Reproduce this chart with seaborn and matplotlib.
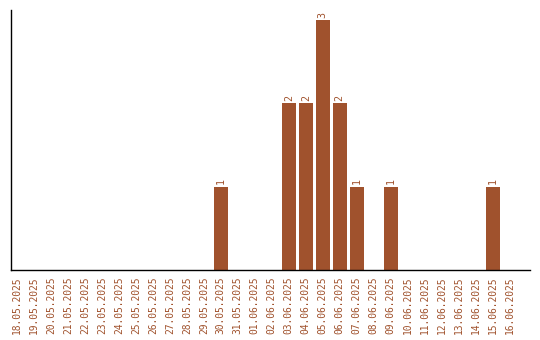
import matplotlib
matplotlib.use("Agg")
import matplotlib.pyplot as plt
import seaborn as sns
import pandas as pd

dates = ["18.05.2025", "19.05.2025", "20.05.2025", "21.05.2025", "22.05.2025",
         "23.05.2025", "24.05.2025", "25.05.2025", "26.05.2025", "27.05.2025",
         "28.05.2025", "29.05.2025", "30.05.2025", "31.05.2025", "01.06.2025",
         "02.06.2025", "03.06.2025", "04.06.2025", "05.06.2025", "06.06.2025",
         "07.06.2025", "08.06.2025", "09.06.2025", "10.06.2025", "11.06.2025",
         "12.06.2025", "13.06.2025", "14.06.2025", "15.06.2025", "16.06.2025"]
counts = [0, 0, 0, 0, 0, 0, 0, 0, 0, 0, 0, 0, 1, 0, 0,
          0, 2, 2, 3, 2, 1, 0, 1, 0, 0, 0, 0, 0, 1, 0]

color = "#A0522D"
sns.set_style("white")
plt.rcParams['font.family'] = ['DejaVu Sans Mono', 'DejaVu Sans']

df = pd.DataFrame({"date": dates, "count": counts})
fig = plt.figure(figsize=(5.4, 3.4), dpi=100)
ax = fig.add_axes([10.5/540, 1 - 270/340, (530-10.5)/540, 260/340])
sns.barplot(data=df, x="date", y="count", color=color, saturation=1,
            width=0.82, linewidth=0, ax=ax)
ax.set_xlim(-0.38, 30.2)
ax.set_ylim(0, 3.12)
ax.set_xlabel("")
ax.set_ylabel("")
ax.set_yticks([])
ax.tick_params(axis="x", length=0, pad=4.5, labelsize=6.9, labelcolor=color, rotation=90)
for s in ["top", "right"]:
    ax.spines[s].set_visible(False)
for s in ["left", "bottom"]:
    ax.spines[s].set_color("black")
    ax.spines[s].set_linewidth(1)
for i, v in enumerate(counts):
    if v > 0:
        ax.text(i, v + 0.03, str(v), rotation=90, ha="center", va="bottom",
                fontsize=7.2, color=color)
fig.savefig("out.png", dpi=100)
